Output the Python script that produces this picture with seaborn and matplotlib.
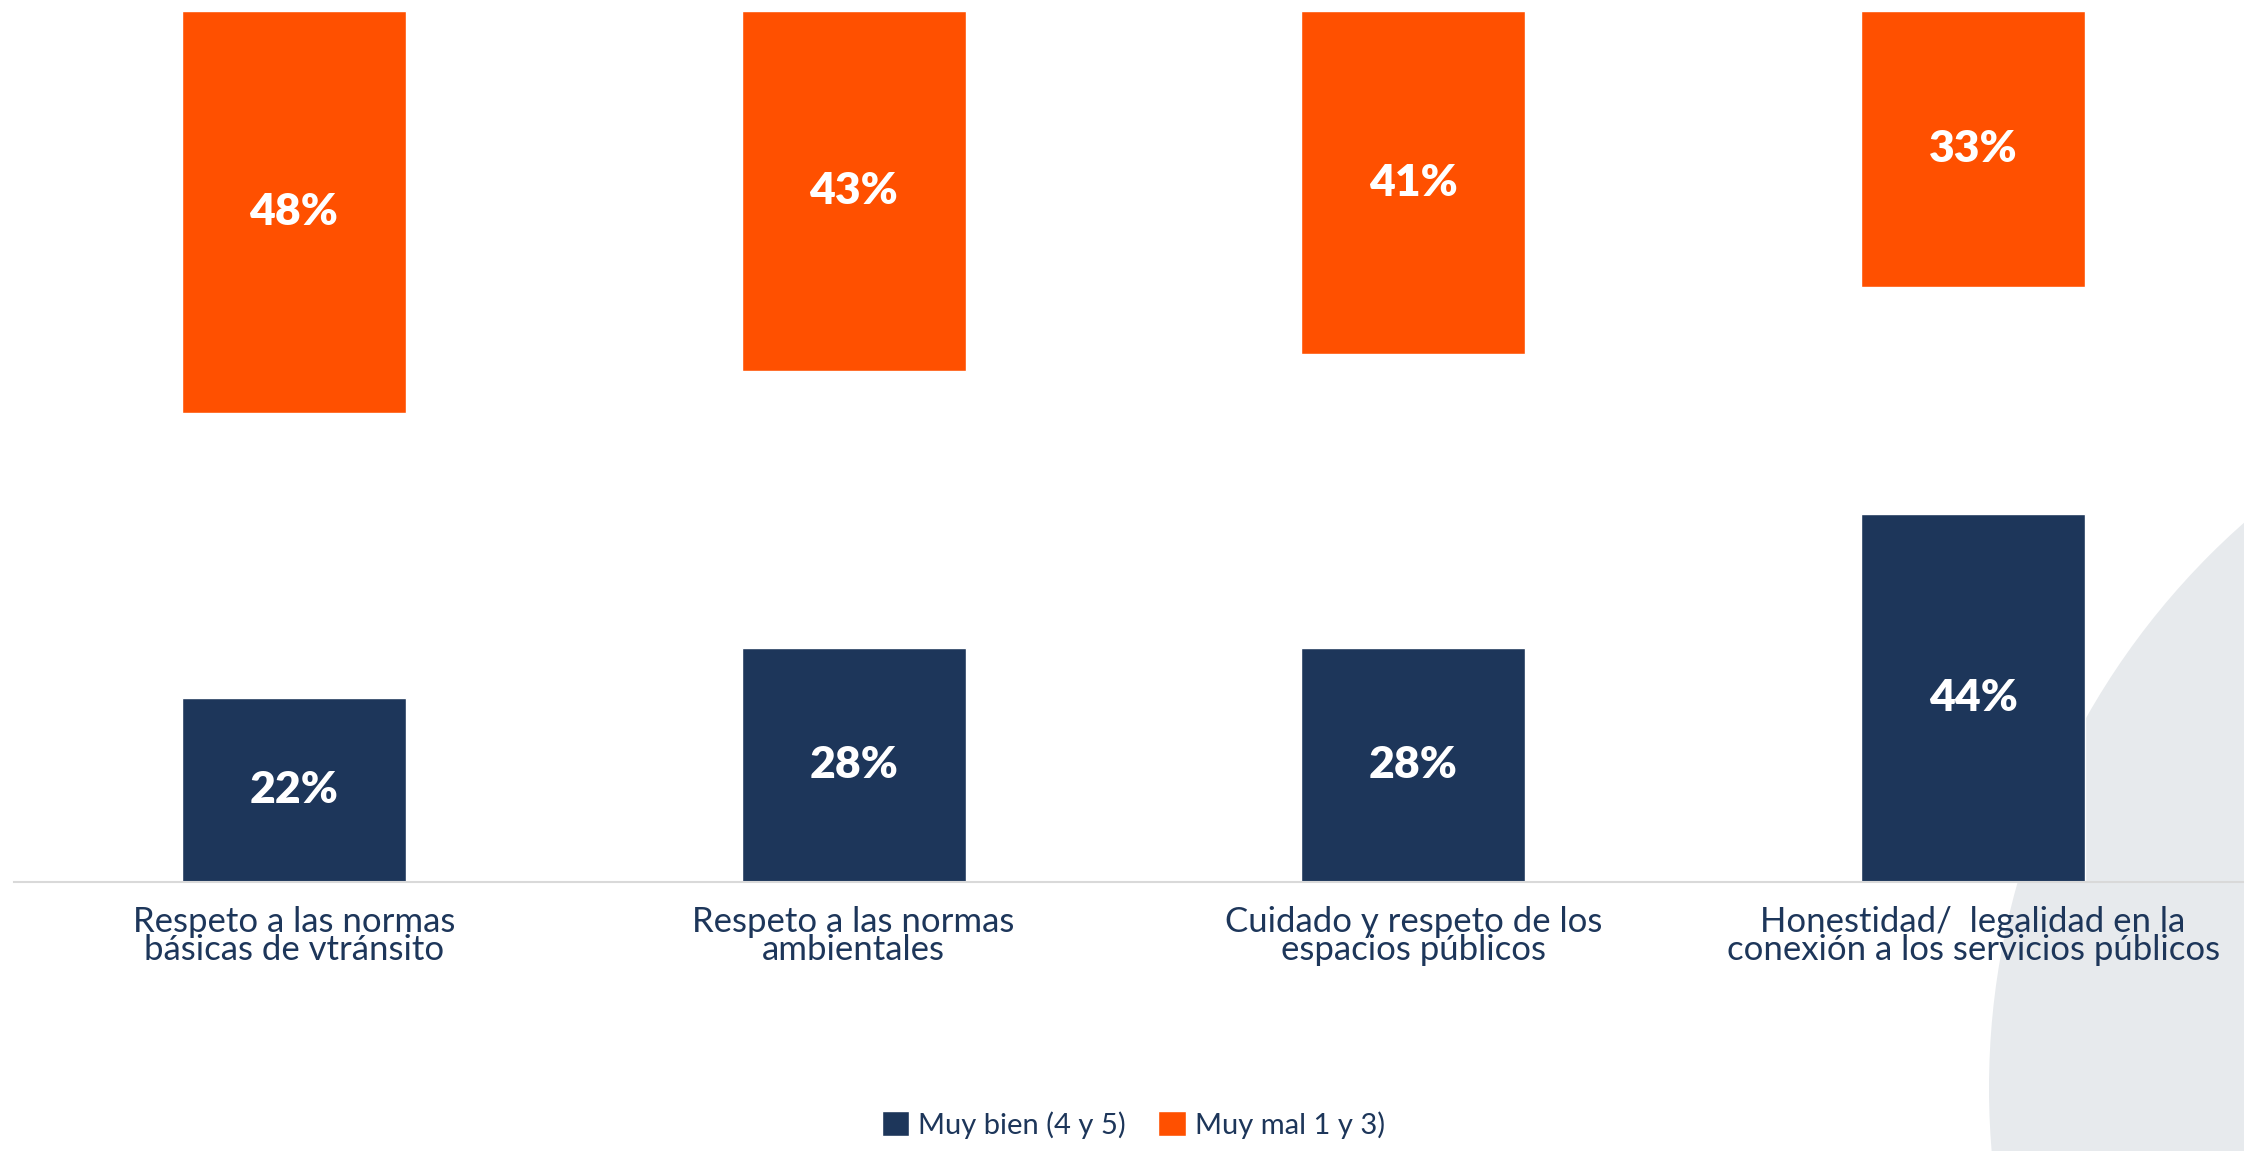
import matplotlib
matplotlib.use("Agg")
import matplotlib.pyplot as plt
from matplotlib.patches import Circle, Patch
import seaborn as sns
import pandas as pd

# data
categories = [
    "Respeto a las normas\nbásicas de vtránsito",
    "Respeto a las normas\nambientales",
    "Cuidado y respeto de los\nespacios públicos",
    "Honestidad/  legalidad en la\nconexión a los servicios públicos",
]
muy_bien = [22, 28, 28, 44]
muy_mal = [48, 43, 41, 33]
series_names = ["Muy bien (4 y 5)", "Muy mal 1 y 3)"]

NAVY = "#1D365A"
ORANGE = "#FF5000"
TEXT = "#1D365A"

sns.set_style("white")
plt.rcParams["font.family"] = ["Lato", "DejaVu Sans"]

df = pd.DataFrame({"categoria": categories, "bien": muy_bien, "mal": muy_mal})

fig = plt.figure(figsize=(22.44, 11.51), dpi=100)

# decorative grey circle in the lower right corner, behind everything
fig.patches.append(Circle((2743, 1151 - 1088), 754, transform=None,
                          facecolor="#E7EAED", edgecolor="none", zorder=-5))

ax = fig.add_axes([14 / 2244, 0.2337, 1 - 14 / 2244 + 0.004, 0.9904 - 0.2337])
ax.patch.set_alpha(0)
sns.barplot(data=df, x="categoria", y="bien", color=NAVY, width=0.4,
            saturation=1, ax=ax)
ax.set_ylim(0, 104)
ax.set_xlim(-0.5, 3.5)

# "Muy mal" bars hang from the top on an inverted twin axis
ax2 = ax.twinx()
ax2.patch.set_alpha(0)
sns.barplot(data=df, x="categoria", y="mal", color=ORANGE, width=0.4,
            saturation=1, ax=ax2)
ax2.set_ylim(104, 0)
ax2.set_xlim(-0.5, 3.5)

for a in (ax, ax2):
    a.set_ylabel("")
    a.set_xlabel("")
    a.set_yticks([])
    for s in ["top", "left", "right", "bottom"]:
        a.spines[s].set_visible(False)

ax.spines["bottom"].set_visible(True)
ax.spines["bottom"].set_color("#D9D9D9")
ax.spines["bottom"].set_linewidth(1.5)

for a, vals in ((ax, muy_bien), (ax2, muy_mal)):
    for bar, v in zip(a.patches, vals):
        a.text(bar.get_x() + bar.get_width() / 2, bar.get_y() + bar.get_height() / 2,
               f"{v}%", ha="center", va="center", color="white",
               fontsize=32, fontweight="heavy")

ax.tick_params(axis="x", length=0, pad=17)
ax.set_xticks(range(len(categories)))
ax.set_xticklabels(categories, fontsize=25, color=TEXT, linespacing=0.85)
ax2.tick_params(axis="x", length=0, labelbottom=False)

handles = [Patch(facecolor=NAVY, label=series_names[0]),
           Patch(facecolor=ORANGE, label=series_names[1])]
fig.legend(handles=handles, loc="lower center", bbox_to_anchor=(0.505, -0.012),
           ncol=2, frameon=False, fontsize=21, labelcolor=TEXT,
           handlelength=0.95, handleheight=0.95, handletextpad=0.3, columnspacing=1.1)

fig.savefig("out.png", dpi=100)
